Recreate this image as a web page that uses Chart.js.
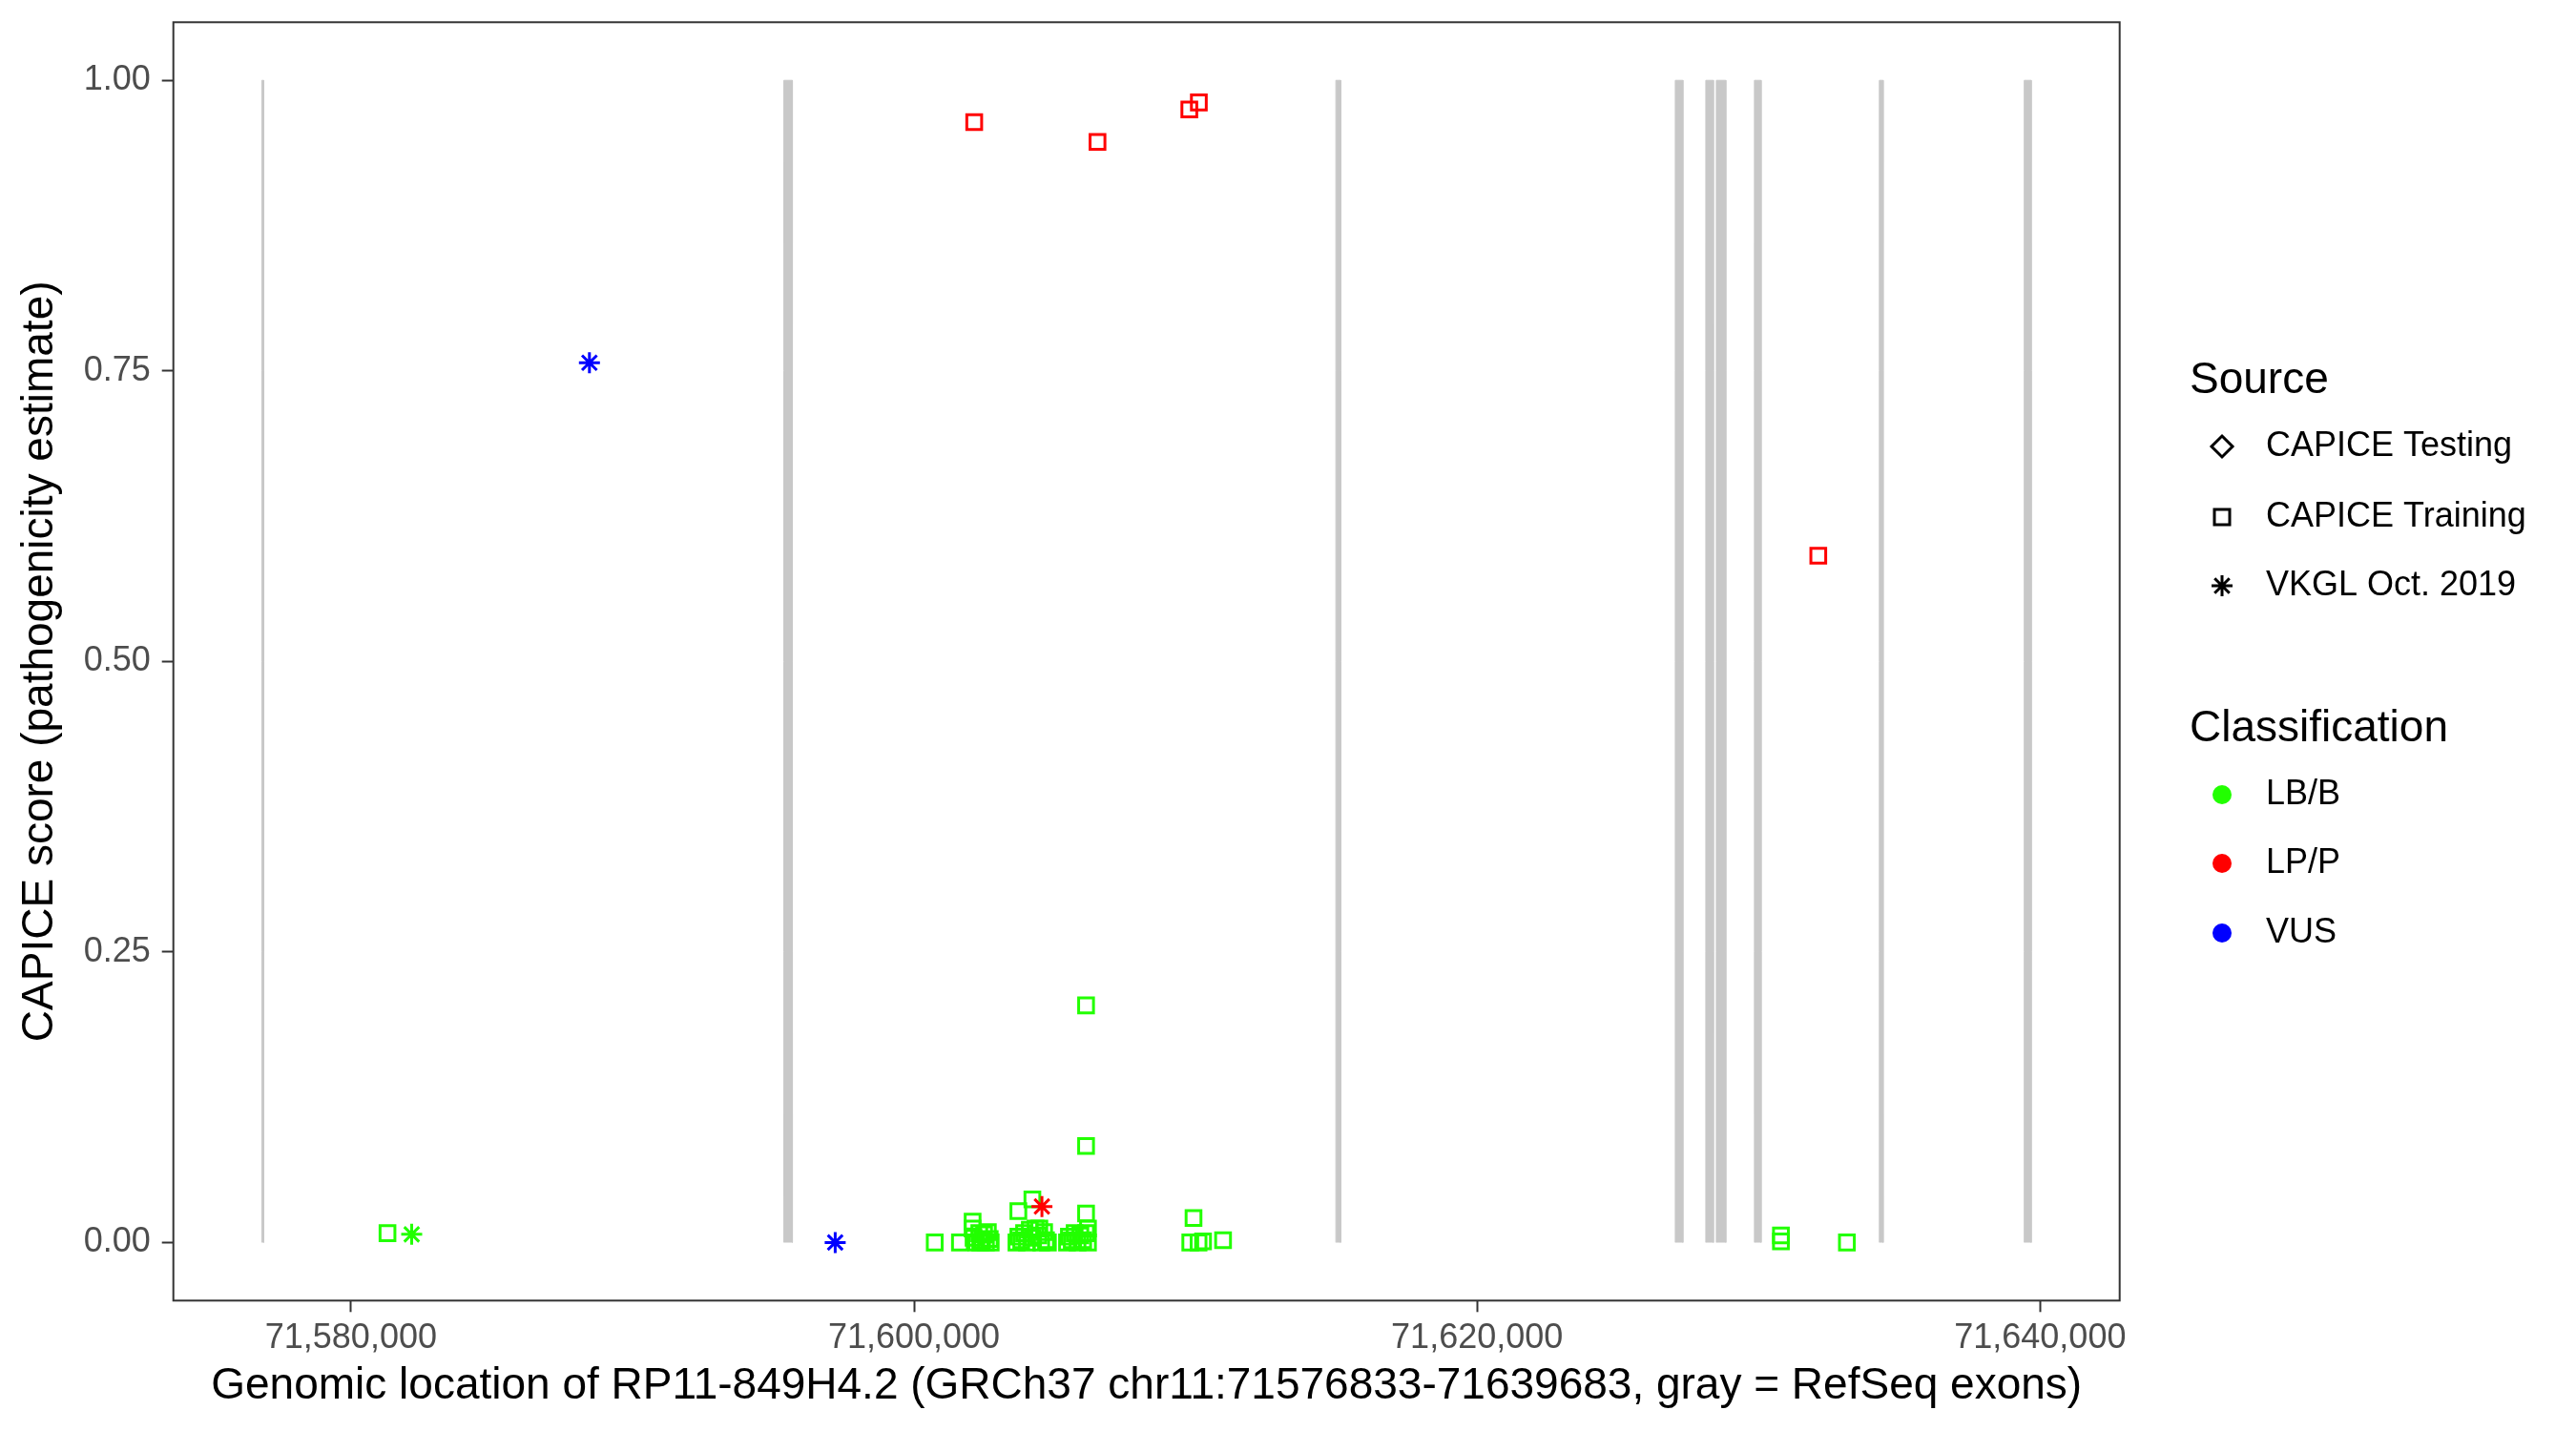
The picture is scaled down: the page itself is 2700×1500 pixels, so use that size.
<!DOCTYPE html>
<html>
<head>
<meta charset="utf-8">
<script src="https://cdn.jsdelivr.net/npm/chart.js@4.4.1/dist/chart.umd.min.js"></script>
<style>
	body { margin: 0; background: #ffffff; }
	#grafico { display: block; }
</style>
</head>
<body>
<canvas id="grafico" width="2700" height="1500"></canvas>
<script>
// RefSeq exons (gray bands)
var exonStart = [71576833, 71595375, 71614984, 71627040, 71628124, 71628497, 71629851, 71634288, 71639435]
var exonEnd = [71576900, 71595680, 71615153, 71627311, 71628395, 71628836, 71630088, 71634424, 71639683]

// CAPICE Training, LB/B
var trainBenignPos = [71581297, 71600736, 71601630,
	71602081, 71602081, 71602115, 71602216, 71602318, 71602352, 71602420, 71602488, 71602555, 71602623, 71602690, 71602724,
	71603638, 71603706, 71603706, 71603808, 71603909, 71604011, 71604112, 71604204, 71604215, 71604316, 71604418, 71604452,
	71604519, 71604621, 71604688, 71604756,
	71605434, 71605501, 71605603, 71605705, 71605807, 71605908, 71606009, 71606111, 71606179, 71606111, 71606179, 71606111, 71606111,
	71609813, 71609928, 71610107, 71610266, 71610977, 71630793, 71630793, 71633136]
var trainBenignScore = [0.008, 0.000, 0.000,
	0.018, 0.012, 0.004, 0.000, 0.008, 0.000, 0.002, 0.007, 0.000, 0.009, 0.003, 0.000,
	0.000, 0.027, 0.005, 0.002, 0.008, 0.000, 0.011, 0.037, 0.004, 0.012, 0.006, 0.012,
	0.000, 0.009, 0.002, 0.000,
	0.000, 0.005, 0.002, 0.008, 0.000, 0.006, 0.002, 0.008, 0.000, 0.025, 0.012, 0.083, 0.204,
	0.000, 0.021, 0.000, 0.001, 0.002, 0.006, 0.001, 0.000]

// CAPICE Training, LP/P
var trainPathoPos = [71602138, 71606517, 71609779, 71610117, 71632120]
var trainPathoScore = [0.964, 0.947, 0.975, 0.981, 0.591]

// VKGL Oct. 2019
var vkglBenignPos = [71582157]
var vkglBenignScore = [0.007]
var vkglPathoPos = [71604543]
var vkglPathoScore = [0.031]
var vkglVusPos = [71588470, 71597200]
var vkglVusScore = [0.757, 0.000]

var xTicks = [71580000, 71600000, 71620000, 71640000]
var yTicks = [0, 0.25, 0.5, 0.75, 1]

var sourceLabels = ["CAPICE Testing", "CAPICE Training", "VKGL Oct. 2019"]
var classLabels = ["LB/B", "LP/P", "VUS"]

var chartColors = {
	green: "#22FF00",
	red: "#FF0000",
	blue: "#0000FF",
	exon: "#C8C8C8",
	frame: "#333333",
	tick: "#4D4D4D",
}
var fonte = '"Liberation Sans", Arial, sans-serif'

function juntaPontos(pos, score) {
	var pontos = []
	for (var i = 0; i < pos.length; i++) {
		pontos.push({ x: pos[i], y: score[i] })
	}
	return pontos
}

function datasetPontos(pos, score, cor, estilo) {
	return {
		type: "scatter",
		data: juntaPontos(pos, score),
		pointStyle: estilo,
		pointRadius: 11,
		pointBorderWidth: 3,
		pointBorderColor: cor,
		pointBackgroundColor: "rgba(0,0,0,0)",
		borderColor: cor,
		backgroundColor: "rgba(0,0,0,0)",
		order: 1,
	}
}

var datasets = [
	datasetPontos(vkglPathoPos, vkglPathoScore, chartColors.red, "star"),
	datasetPontos(vkglVusPos, vkglVusScore, chartColors.blue, "star"),
	datasetPontos(vkglBenignPos, vkglBenignScore, chartColors.green, "star"),
	datasetPontos(trainPathoPos, trainPathoScore, chartColors.red, "rect"),
	datasetPontos(trainBenignPos, trainBenignScore, chartColors.green, "rect"),
]

for (var i = 0; i < exonStart.length; i++) {
	datasets.push({
		type: "line",
		data: [
			{ x: exonStart[i], y: 0 },
			{ x: exonStart[i], y: 1 },
			{ x: exonEnd[i], y: 1 },
			{ x: exonEnd[i], y: 0 },
		],
		borderColor: chartColors.exon,
		backgroundColor: chartColors.exon,
		borderWidth: 1,
		fill: "origin",
		pointRadius: 0,
		tension: 0,
		order: 10,
	})
}

// panel border + ggplot style legend
var molduraELegenda = {
	id: "molduraELegenda",
	afterDraw: function (chart) {
		var ctx = chart.ctx
		var a = chart.chartArea
		ctx.save()
		ctx.strokeStyle = chartColors.frame
		ctx.lineWidth = 2
		ctx.strokeRect(a.left, a.top, a.right - a.left, a.bottom - a.top)

		ctx.fillStyle = "#000000"
		ctx.textAlign = "left"
		ctx.textBaseline = "middle"
		ctx.font = "46px " + fonte
		ctx.fillText("Source", 2295, 399)
		ctx.fillText("Classification", 2295, 764)

		ctx.font = "36px " + fonte
		var ySource = [468, 542, 614]
		var yClass = [833, 905, 978]
		for (var i = 0; i < sourceLabels.length; i++) {
			ctx.fillText(sourceLabels[i], 2375, ySource[i])
		}
		for (var j = 0; j < classLabels.length; j++) {
			ctx.fillText(classLabels[j], 2375, yClass[j])
		}

		var sx = 2329
		ctx.strokeStyle = "#000000"
		ctx.lineWidth = 3
		// diamond
		ctx.beginPath()
		ctx.moveTo(sx, ySource[0] - 11)
		ctx.lineTo(sx + 11, ySource[0])
		ctx.lineTo(sx, ySource[0] + 11)
		ctx.lineTo(sx - 11, ySource[0])
		ctx.closePath()
		ctx.stroke()
		// square
		ctx.strokeRect(sx - 8, ySource[1] - 8, 16, 16)
		// asterisk
		ctx.beginPath()
		for (var k = 0; k < 4; k++) {
			var ang = k * Math.PI / 4
			var dx = Math.cos(ang) * 11
			var dy = Math.sin(ang) * 11
			ctx.moveTo(sx - dx, ySource[2] - dy)
			ctx.lineTo(sx + dx, ySource[2] + dy)
		}
		ctx.stroke()

		var coresClasse = [chartColors.green, chartColors.red, chartColors.blue]
		for (var m = 0; m < coresClasse.length; m++) {
			ctx.fillStyle = coresClasse[m]
			ctx.beginPath()
			ctx.arc(sx, yClass[m], 10, 0, Math.PI * 2)
			ctx.fill()
		}
		ctx.restore()
	}
}

var configChart = {
	type: "scatter",
	data: { datasets: datasets },
	plugins: [molduraELegenda],
	options: {
		responsive: false,
		devicePixelRatio: 1,
		animation: false,
		events: [],
		layout: {
			padding: { top: 23.3, right: 478.3, bottom: 0, left: 0 },
		},
		plugins: {
			legend: { display: false },
			tooltip: { enabled: false },
		},
		scales: {
			x: {
				type: "linear",
				min: 71573691,
				max: 71642825,
				afterBuildTicks: function (scale) {
					scale.ticks = xTicks.map(function (v) { return { value: v } })
				},
				afterFit: function (scale) {
					scale.height = 136.7
					scale.paddingLeft = 0
					scale.paddingRight = 0
				},
				ticks: {
					callback: function (v) { return v.toLocaleString("en-US") },
					color: chartColors.tick,
					font: { family: fonte, size: 36 },
					padding: 6,
					maxRotation: 0,
					autoSkip: false,
				},
				grid: {
					drawOnChartArea: false,
					drawTicks: true,
					tickLength: 12,
					tickWidth: 2,
					tickColor: chartColors.frame,
				},
				border: { display: false },
				title: {
					display: true,
					text: "Genomic location of RP11-849H4.2 (GRCh37 chr11:71576833-71639683, gray = RefSeq exons)",
					color: "#000000",
					font: { family: fonte, size: 46 },
					padding: { top: 0, bottom: 19 },
				},
			},
			y: {
				type: "linear",
				min: -0.05,
				max: 1.05,
				afterBuildTicks: function (scale) {
					scale.ticks = yTicks.map(function (v) { return { value: v } })
				},
				afterFit: function (scale) {
					scale.width = 181.7
					scale.paddingTop = 0
					scale.paddingBottom = 0
				},
				ticks: {
					callback: function (v) { return Number(v).toFixed(2) },
					color: chartColors.tick,
					font: { family: fonte, size: 36 },
					padding: 12,
				},
				grid: {
					drawOnChartArea: false,
					drawTicks: true,
					tickLength: 12,
					tickWidth: 2,
					tickColor: chartColors.frame,
				},
				border: { display: false },
				title: {
					display: true,
					text: "CAPICE score (pathogenicity estimate)",
					color: "#000000",
					font: { family: fonte, size: 46 },
					padding: { top: 15, bottom: 0 },
				},
			},
		},
	},
}

var ctx = document.getElementById("grafico").getContext("2d")
window.meuGrafico = new Chart(ctx, configChart)
</script>
</body>
</html>
